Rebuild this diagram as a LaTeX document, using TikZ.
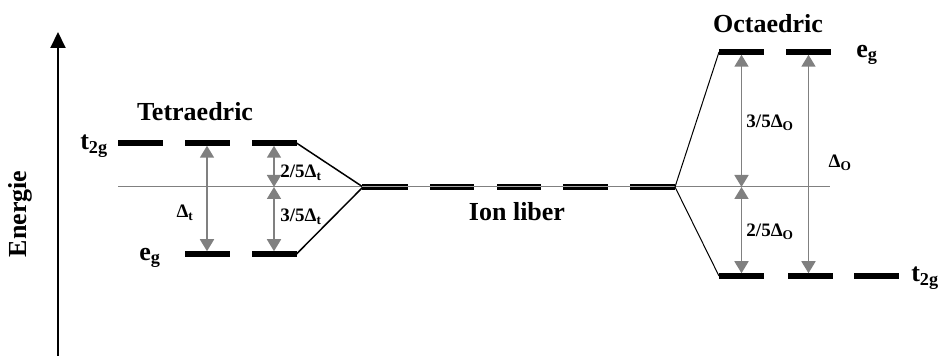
\documentclass[tikz,border=0pt]{standalone}
\usepackage{fontspec}
\setmainfont{Liberation Serif}
\usetikzlibrary{arrows.meta}
\definecolor{gapgray}{RGB}{128,128,128}
\begin{document}
\begin{tikzpicture}[x=1pt,y=-1pt,
  level/.style={fill=black,minimum width=45pt,minimum height=5.5pt,inner sep=0pt,outer sep=0pt},
  gap/.style={draw=gapgray,fill=gapgray,line width=1.8pt,
    {Triangle[width=14pt,length=12pt]}-{Triangle[width=14pt,length=12pt]}},
  big/.style={font=\fontsize{26}{29}\selectfont\bfseries,inner sep=0pt},
  small/.style={font=\fontsize{19}{21}\selectfont\bfseries,inner sep=0pt},
  split/.style={draw=black,line width=1.5pt},
  freeion/.style={line width=2.5pt,double=gapgray!70,double distance=1pt}]
\useasboundingbox (0,0) rectangle (943,363);

% energy axis
\coordinate (ax0) at (58,356);
\coordinate (ax1) at (58,32);
\draw[line width=2pt,-{Triangle[width=15pt,length=16pt]}] (ax0) -- (ax1);
\node[big,rotate=90] (energy) at (20,214) {Energie};

% barycentre line
\coordinate (m0) at (118,187);
\coordinate (m1) at (830,187);
\draw[gapgray,line width=1pt] (m0) -- (m1);

% tetrahedral field
\node[level] (tt1) at (140.5,143) {};
\node[level] (tt2) at (207,143) {};
\node[level] (tt3) at (274,143) {};
\node[level] (te1) at (207,254) {};
\node[level] (te2) at (274,254) {};
\coordinate (tc) at (363,187);
\coordinate (tm) at (274,187);
\draw[split] (tt3.east) -- (tc);
\draw[split] (te2.east) -- (tc);
\draw[gap] (tt2.south) -- (te1.north);
\draw[gap] (tt3.south) -- (tm);
\draw[gap] (tm) -- (te2.north);
\node[big] (tetra) at (195,112) {Tetraedric};
\node[big] (ttlab) at (94,146) {t\textsubscript{2g}};
\node[big] (telab) at (150,258) {e\textsubscript{g}};
\node[small] (dt) at (185,213) {Δ\textsubscript{t}};
\node[small] (dt25) at (301,173) {2/5Δ\textsubscript{t}};
\node[small] (dt35) at (301,217) {3/5Δ\textsubscript{t}};

% free ion, fivefold degenerate
\draw[freeion] (362,187) -- (408,187);
\draw[freeion] (430,187) -- (474,187);
\draw[freeion] (497,187) -- (541,187);
\draw[freeion] (563,187) -- (608,187);
\draw[freeion] (630,187) -- (675,187);
\node[big] (ion) at (517,212) {Ion liber};

% octahedral field
\coordinate (oc) at (675,187);
\node[level] (oe1) at (741.5,52) {};
\node[level] (oe2) at (808.5,52) {};
\node[level] (ot1) at (741.5,276) {};
\node[level] (ot2) at (810,276) {};
\node[level] (ot3) at (876.5,276) {};
\coordinate (om) at (741.5,187);
\draw[draw=black,line width=1pt] (oc) -- (oe1.west);
\draw[draw=black,line width=1pt] (oc) -- (ot1.west);
\draw[gap] (oe1.south) -- (om);
\draw[gap] (om) -- (ot1.north);
\draw[gap] (oe2.south) -- (oe2.south |- ot2.north);
\node[big] (octa) at (768,24) {Octaedric};
\node[big] (oelab) at (867,55) {e\textsubscript{g}};
\node[big] (otlab) at (925,278) {t\textsubscript{2g}};
\node[small] (do35) at (770,123) {3/5Δ\textsubscript{O}};
\node[small] (do) at (840,163) {Δ\textsubscript{O}};
\node[small] (do25) at (770,232) {2/5Δ\textsubscript{O}};
\end{tikzpicture}
\end{document}
